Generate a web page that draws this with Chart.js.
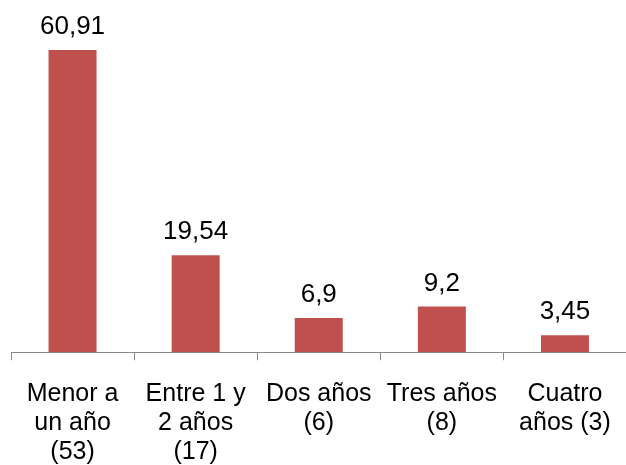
<!DOCTYPE html>
<html>
<head>
<meta charset="utf-8">
<script src="https://cdn.jsdelivr.net/npm/chart.js@4"></script>
<style>
  html, body { margin: 0; padding: 0; background: #fff; overflow: hidden; }
  #wrap { width: 630px; height: 465px; }
</style>
</head>
<body>
<div id="wrap"><canvas id="chart" width="630" height="465"></canvas></div>
<script>
const categories = [
  ['Menor a', 'un año', '(53)'],
  ['Entre 1 y', '2 años', '(17)'],
  ['Dos años', '(6)'],
  ['Tres años', '(8)'],
  ['Cuatro', 'años (3)']
];
const values = [60.91, 19.54, 6.9, 9.2, 3.45];

// draw the value above each bar, with decimal comma
const valueLabels = {
  id: 'valueLabels',
  afterDatasetsDraw(chart) {
    const ctx = chart.ctx;
    const meta = chart.getDatasetMeta(0);
    ctx.save();
    ctx.font = '26px "Liberation Sans", Arial, sans-serif';
    ctx.fillStyle = '#000';
    ctx.textAlign = 'center';
    ctx.textBaseline = 'bottom';
    meta.data.forEach(function(bar, i) {
      ctx.fillText(String(values[i]).replace('.', ','), bar.x, bar.y - 10);
    });
    ctx.restore();
  }
};

var ctx = document.getElementById('chart').getContext('2d');
var chart = new Chart(ctx, {
  type: 'bar',
  data: {
    labels: categories,
    datasets: [{
      data: values,
      backgroundColor: '#C0504D',
      borderWidth: 0,
      categoryPercentage: 1,
      barPercentage: 0.39
    }]
  },
  options: {
    responsive: false,
    animation: false,
    layout: { padding: { left: 11, right: 2, top: 5, bottom: -21 } },
    plugins: { legend: { display: false }, tooltip: { enabled: false } },
    scales: {
      x: {
        grid: { display: true, drawOnChartArea: false, offset: true, color: '#888', tickLength: 8 },
        border: { display: true, color: '#888', width: 1 },
        ticks: {
          color: '#000',
          font: { family: '"Liberation Sans", Arial, sans-serif', size: 25, lineHeight: 1.17 },
          maxRotation: 0,
          autoSkip: false,
          padding: 19
        }
      },
      y: { display: false, min: 0, max: 70 }
    }
  },
  plugins: [valueLabels]
});
</script>
</body>
</html>
